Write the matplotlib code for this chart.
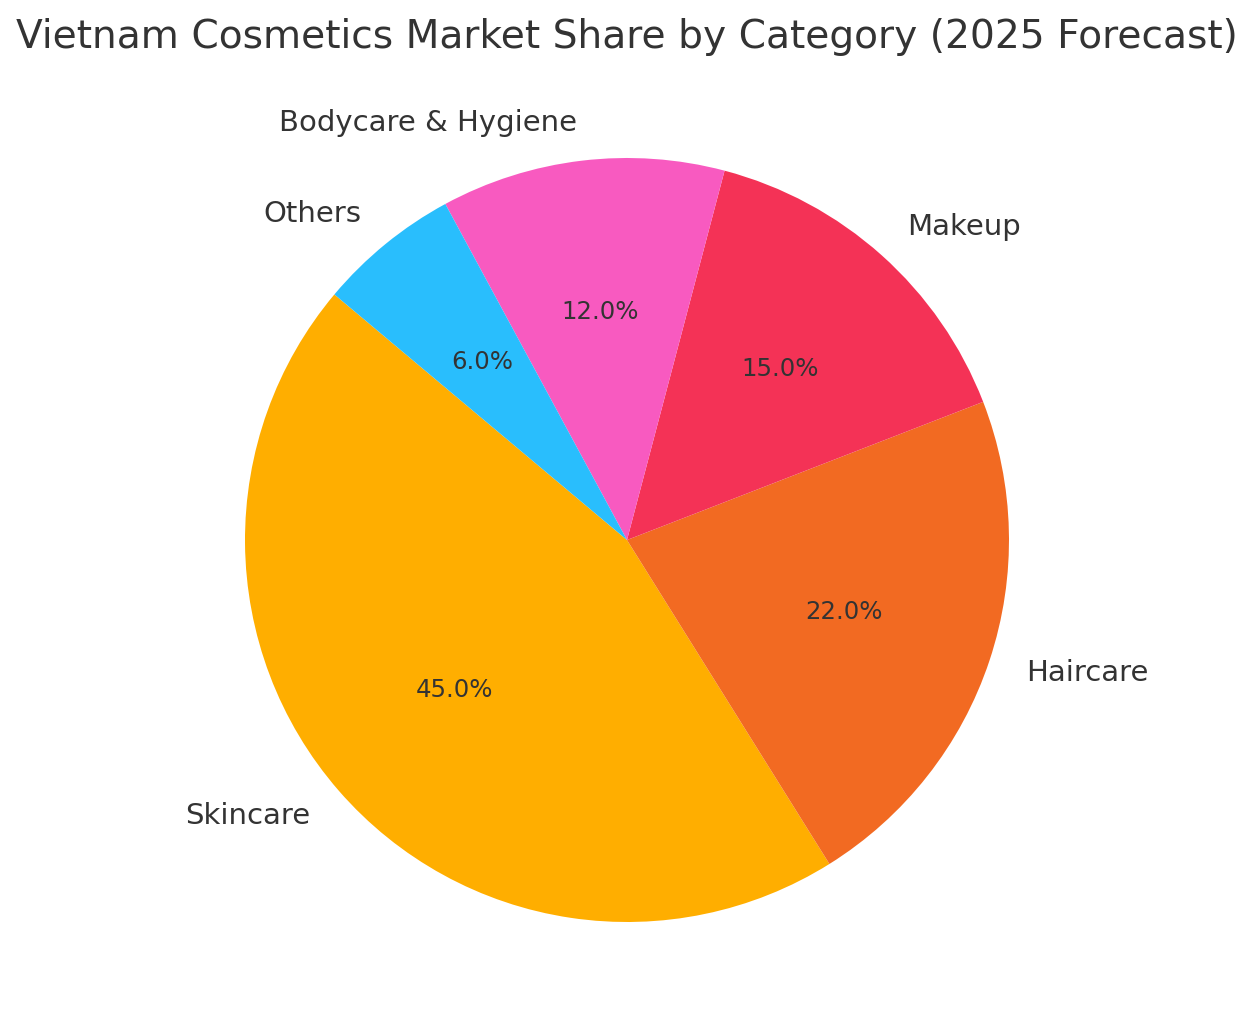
import matplotlib
matplotlib.use("Agg")
import matplotlib.pyplot as plt

categories = ["Skincare", "Haircare", "Makeup", "Bodycare & Hygiene", "Others"]
shares = [45, 22, 15, 12, 6]
colors = ["#FFAE00", "#F26A22", "#F43256", "#F85AC0", "#29BEFD"]

W, H = 1254, 1035
fig = plt.figure(figsize=(W / 100, H / 100), dpi=100)
fig.patch.set_facecolor("white")

R = 382.0
cx, cy = 627.0, 540.0
side = 2.5 * R
ax = fig.add_axes([(cx - side / 2) / W, ((H - cy) - side / 2) / H, side / W, side / H])

wedges, texts, autotexts = ax.pie(
    shares, labels=categories, colors=colors, startangle=140,
    autopct="%1.1f%%", counterclock=True,
    textprops={"color": "#333333", "fontsize": 21.0},
)
for t in autotexts:
    t.set_fontsize(17.6)
    t.set_color("#333333")
ax.set_aspect("equal")

fig.text(0.5, 1 - 37 / H, "Vietnam Cosmetics Market Share by Category (2025 Forecast)",
         ha="center", va="center", fontsize=28.15, color="#333333")

fig.savefig("out.png", dpi=100)
